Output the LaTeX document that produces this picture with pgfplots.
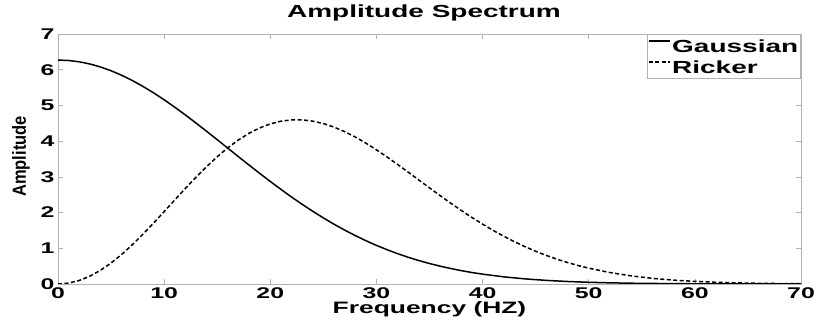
\documentclass[border=0pt]{standalone}
\usepackage{fontspec}
\setmainfont{Liberation Sans}
\newfontfamily\wide{Liberation Sans}[FakeStretch=1.6]
\usepackage{pgfplots}
\pgfplotsset{compat=1.18}

\begin{document}
\begin{tikzpicture}
\begin{axis}[
  scale only axis,
  width=743bp, height=250bp,
  xmin=0, xmax=70, ymin=0, ymax=7,
  xtick={0,10,...,70}, ytick={0,1,...,7},
  axis line style={draw=gray!60, line width=0.6bp},
  tick style={draw=gray!60, line width=0.6bp},
  major tick length=5bp,
  /pgf/number format/assume math mode=true,
  ticklabel style={font=\wide\bfseries\fontsize{15.5bp}{18bp}\selectfont},
  xticklabel style={anchor=base, yshift=-14.5bp},
  title={Amplitude Spectrum},
  title style={at={(axis description cs:0.4926,1.044)}, anchor=base,
    font=\wide\bfseries\fontsize{17.5bp}{20bp}\selectfont},
  xlabel={Frequency (HZ)},
  xlabel style={at={(axis description cs:0.5,-0.118)}, anchor=base,
    font=\wide\bfseries\fontsize{16.5bp}{19bp}\selectfont},
  ylabel={\scalebox{1}[1.15]{Amplitude}},
  ylabel style={at={(axis description cs:-0.0498,0.51)}, anchor=center,
    font=\bfseries\fontsize{16.5bp}{19bp}\selectfont},
  legend style={at={(1,1)}, anchor=north east, draw=gray!60, line width=0.6bp,
    font=\wide\bfseries\fontsize{17.5bp}{20bp}\selectfont,
    inner xsep=1bp, inner ysep=1bp,
    nodes={inner xsep=1.5bp, inner ysep=3.5bp, text height=14bp, text depth=0bp}},
  legend cell align=left,
  legend image code/.code={\draw[#1] (0bp,5bp) -- (21bp,5bp);},
]
% Gaussian wavelet spectrum
\addplot[black, line width=1.5bp] coordinates {
 (0,6.270) (1,6.258) (2,6.221) (3,6.161) (4,6.077) (5,5.971) (6,5.844)
 (7,5.698) (8,5.533) (9,5.353) (10,5.158) (11,4.950) (12,4.733) (13,4.507)
 (14,4.276) (15,4.040) (16,3.803) (17,3.565) (18,3.330) (19,3.098) (20,2.871)
 (21,2.650) (22,2.436) (23,2.231) (24,2.036) (25,1.850) (26,1.674) (27,1.510)
 (28,1.356) (29,1.213) (30,1.081) (31,0.960) (32,0.849) (33,0.747) (34,0.656)
 (35,0.573) (36,0.499) (37,0.433) (38,0.374) (39,0.321) (40,0.276)
 (42,0.200) (44,0.143) (46,0.101) (48,0.070) (50,0.048) (52,0.032)
 (55,0.017) (60,0.006) (65,0.002) (70,0.0001)
};
\addlegendentry{Gaussian}
% Ricker wavelet spectrum
\addplot[black, line width=1.5bp, dash pattern=on 4bp off 2.5bp] coordinates {
 (0,0) (1,0.025) (2,0.098) (3,0.218) (4,0.383) (5,0.588) (6,0.828)
 (7,1.099) (8,1.393) (9,1.705) (10,2.027) (11,2.353) (12,2.676) (13,2.990)
 (14,3.287) (15,3.563) (16,3.814) (17,4.033) (18,4.220) (19,4.370) (20,4.483)
 (21,4.558) (22,4.595) (23,4.596) (24,4.560) (25,4.492) (26,4.393) (27,4.266)
 (28,4.116) (29,3.945) (30,3.757) (31,3.556) (32,3.346) (33,3.130) (34,2.910)
 (35,2.691) (36,2.475) (37,2.263) (38,2.058) (39,1.862) (40,1.676)
 (41,1.500) (42,1.336) (43,1.184) (44,1.044) (45,0.916) (46,0.800)
 (47,0.695) (48,0.601) (49,0.517) (50,0.443) (52,0.320) (54,0.227)
 (56,0.158) (58,0.108) (60,0.073) (62,0.048) (64,0.031) (66,0.020)
 (68,0.012) (70,0.008)
};
\addlegendentry{Ricker}
\coordinate (bl) at (rel axis cs:0,0);
\coordinate (tr) at (rel axis cs:1,1);
\end{axis}
\pgfresetboundingbox
\path ([shift={(-58bp,-38bp)}]bl) rectangle ([shift={(15bp,34bp)}]tr);
\end{tikzpicture}
\end{document}
